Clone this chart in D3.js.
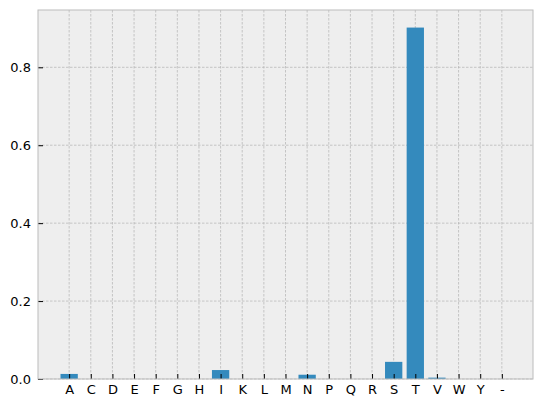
<!DOCTYPE html>
<html>
<head>
<meta charset="utf-8">
<script src="https://cdn.jsdelivr.net/npm/d3@7"></script>
<style>
  body { margin: 0; background: #fff; }
  svg text { font-family: "DejaVu Sans", sans-serif; font-size: 13px; }
</style>
</head>
<body>
<svg id="chart" width="542" height="408"></svg>
<script>
// residues and their frequencies
var residues = ["A","C","D","E","F","G","H","I","K","L","M","N","P","Q","R","S","T","V","W","Y","-"];
var freqs = [0.013,0,0,0,0,0,0,0.023,0,0,0,0.011,0,0,0,0.044,0.902,0.0035,0,0,0];
var yTicks = [0.0, 0.2, 0.4, 0.6, 0.8];

var margin = {left: 38, top: 10, right: 9, bottom: 29};
var W = 542, H = 408;
var svg = d3.select("#chart");
var plotW = W - margin.left - margin.right,
    plotH = H - margin.top - margin.bottom;
var root = svg.append("g").attr("transform", "translate(" + margin.left + "," + margin.top + ")");

// linear x like matplotlib: bars width 0.8, 5% margins
var span = (residues.length - 1) + 0.8;
var pad = span * 0.05;
var x = d3.scaleLinear()
    .domain([-0.4 - pad, residues.length - 1 + 0.4 + pad])
    .range([0, plotW]);
var yMax = d3.max(freqs) * 1.05;
var y = d3.scaleLinear().domain([0, yMax]).range([plotH, 0]);

root.append("rect")
    .attr("width", plotW).attr("height", plotH)
    .attr("fill", "#eeeeee");

// grid
root.selectAll("line.vgrid").data(residues).enter().append("line")
    .classed("vgrid", true)
    .attr("x1", function(d, i) { return x(i); })
    .attr("x2", function(d, i) { return x(i); })
    .attr("y1", 0).attr("y2", plotH)
    .attr("stroke", "#b2b2b2").attr("stroke-width", 0.7)
    .attr("stroke-dasharray", "2.5,1.5");
root.selectAll("line.hgrid").data(yTicks).enter().append("line")
    .classed("hgrid", true)
    .attr("x1", 0).attr("x2", plotW)
    .attr("y1", function(d) { return y(d); })
    .attr("y2", function(d) { return y(d); })
    .attr("stroke", "#b2b2b2").attr("stroke-width", 0.7)
    .attr("stroke-dasharray", "2.5,1.5");

// bars
root.selectAll("rect.bar").data(freqs).enter().append("rect")
    .classed("bar", true)
    .attr("x", function(d, i) { return x(i - 0.4); })
    .attr("width", x(0.8) - x(0))
    .attr("y", function(d) { return y(d); })
    .attr("height", function(d) { return y(0) - y(d); })
    .attr("fill", "#348abd");

// axes with inward ticks (negative size => padding counts from the axis line)
var xAxis = d3.axisBottom(x)
    .tickValues(d3.range(residues.length))
    .tickFormat(function(i) { return residues[i]; })
    .tickSizeInner(-5).tickSizeOuter(0).tickPadding(6);
var gx = root.append("g").attr("transform", "translate(0," + plotH + ")").call(xAxis);
var yAxis = d3.axisLeft(y)
    .tickValues(yTicks)
    .tickFormat(d3.format(".1f"))
    .tickSizeInner(-5).tickSizeOuter(0).tickPadding(7);
var gy = root.append("g").call(yAxis);

[gx, gy].forEach(function(g) {
  g.attr("font-size", 13).attr("font-family", "DejaVu Sans, sans-serif");
  g.select(".domain").remove();
  g.selectAll(".tick line").attr("stroke", "#000").attr("stroke-width", 1);
  g.selectAll(".tick text").attr("fill", "#000").style("font-size", "13px");
});

// frame
root.append("rect")
    .attr("width", plotW).attr("height", plotH)
    .attr("fill", "none").attr("stroke", "#bcbcbc").attr("stroke-width", 1);
</script>
</body>
</html>
